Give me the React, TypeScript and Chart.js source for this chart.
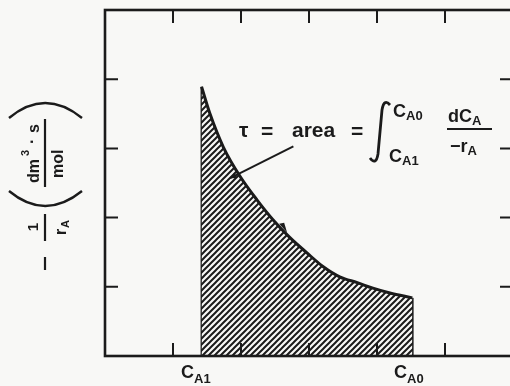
import React, { useEffect, useRef } from "react";
import { Chart, registerables } from "chart.js";

Chart.register(...registerables);

// Curve -1/rA versus CA (axis units: x 0..6, y 0..5)
const curveX = [1.42, 1.54, 1.74, 1.99, 2.24, 2.47, 2.72, 2.97, 3.21, 3.46, 3.71, 3.94, 4.19, 4.52];
const curveY = [3.89, 3.51, 3.02, 2.59, 2.25, 1.97, 1.71, 1.49, 1.29, 1.14, 1.06, 0.98, 0.91, 0.84];
const xTicks = [1, 2, 3, 4, 5];
const yTicks = [1, 2, 3, 4];
const xRange = [0, 6];
const yRange = [0, 5];
// annotation anchors (data units)
const leaderFrom = { x: 2.77, y: 3.03 };
const leaderTo = { x: 1.84, y: 2.57 };
const curveArrow = { x: 2.62, y: 1.84 };

const INK = "#1b1b1b";
const BG = "#f8f8f6";
const FONT = (s: number) => `bold ${s}px "Liberation Sans", Arial, sans-serif`;

export default function App() {
  const ref = useRef<HTMLCanvasElement>(null);
  useEffect(() => {
    const canvas = ref.current!;
    const pc = document.createElement("canvas");
    pc.width = 6;
    pc.height = 6;
    const p = pc.getContext("2d")!;
    p.fillStyle = BG;
    p.fillRect(0, 0, 6, 6);
    p.strokeStyle = INK;
    p.lineWidth = 2;
    p.beginPath();
    p.moveTo(-1, 7);
    p.lineTo(7, -1);
    p.moveTo(-1, 1);
    p.lineTo(1, -1);
    p.moveTo(5, 7);
    p.lineTo(7, 5);
    p.stroke();
    const pattern = canvas.getContext("2d")!.createPattern(pc, "repeat");

    const bgPlugin = {
      id: "bg",
      beforeDraw(c: any) {
        const ctx = c.ctx;
        ctx.save();
        ctx.fillStyle = BG;
        ctx.fillRect(0, 0, c.width, c.height);
        ctx.restore();
      },
    };

    const sub = (ctx: any, main: string, s: string, x: number, y: number, ms: number, ss: number, dy: number) => {
      ctx.font = FONT(ms);
      ctx.textAlign = "left";
      ctx.textBaseline = "alphabetic";
      ctx.fillText(main, x, y);
      const w = ctx.measureText(main).width;
      ctx.font = FONT(ss);
      ctx.fillText(s, x + w, y + dy);
    };

    const deco = {
      id: "deco",
      afterDatasetsDraw(c: any) {
        const ctx = c.ctx;
        const a = c.chartArea;
        const xs = c.scales.x;
        const ys = c.scales.y;
        ctx.save();
        ctx.strokeStyle = INK;
        ctx.fillStyle = INK;
        ctx.lineCap = "butt";
        // frame
        ctx.lineWidth = 2.6;
        ctx.strokeRect(a.left, a.top, a.right - a.left, a.bottom - a.top);
        // ticks (inward)
        ctx.lineWidth = 2;
        const TL = 13;
        ctx.beginPath();
        xTicks.forEach((t) => {
          const px = xs.getPixelForValue(t);
          ctx.moveTo(px, a.top);
          ctx.lineTo(px, a.top + TL);
          ctx.moveTo(px, a.bottom);
          ctx.lineTo(px, a.bottom - TL);
        });
        yTicks.forEach((t) => {
          const py = ys.getPixelForValue(t);
          ctx.moveTo(a.left, py);
          ctx.lineTo(a.left + TL, py);
          ctx.moveTo(a.right, py);
          ctx.lineTo(a.right - TL, py);
        });
        ctx.stroke();

        // leader line
        const lx0 = xs.getPixelForValue(leaderFrom.x);
        const ly0 = ys.getPixelForValue(leaderFrom.y);
        const lx1 = xs.getPixelForValue(leaderTo.x);
        const ly1 = ys.getPixelForValue(leaderTo.y);
        ctx.lineWidth = 2;
        ctx.beginPath();
        ctx.moveTo(lx0, ly0);
        ctx.lineTo(lx1, ly1);
        ctx.stroke();
        const ang = Math.atan2(ly1 - ly0, lx1 - lx0);
        ctx.beginPath();
        ctx.moveTo(lx1, ly1);
        ctx.lineTo(lx1 - 7 * Math.cos(ang - 0.45), ly1 - 7 * Math.sin(ang - 0.45));
        ctx.lineTo(lx1 - 7 * Math.cos(ang + 0.45), ly1 - 7 * Math.sin(ang + 0.45));
        ctx.closePath();
        ctx.fill();

        // small arrow on the curve
        const ax = xs.getPixelForValue(curveArrow.x);
        const ay = ys.getPixelForValue(curveArrow.y);
        ctx.beginPath();
        ctx.moveTo(ax + 4, ay + 4);
        ctx.lineTo(ax - 4, ay - 5);
        ctx.lineTo(ax + 1, ay - 6);
        ctx.closePath();
        ctx.fill();

        // equation
        ctx.font = FONT(21);
        ctx.textAlign = "left";
        ctx.textBaseline = "alphabetic";
        ctx.fillText("τ", 239, 137);
        ctx.fillText("=", 261, 138);
        ctx.fillText("area", 292, 137);
        ctx.fillText("=", 351, 138);
        // integral sign
        ctx.lineWidth = 2.8;
        ctx.beginPath();
        ctx.moveTo(390, 105);
        ctx.quadraticCurveTo(384, 98, 382, 110);
        ctx.lineTo(378, 154);
        ctx.quadraticCurveTo(376, 166, 370, 158);
        ctx.stroke();
        sub(ctx, "C", "A0", 393, 117, 18, 13, 3);
        sub(ctx, "C", "A1", 389, 162, 18, 13, 3);
        sub(ctx, "dC", "A", 448, 122, 18, 13, 3);
        ctx.lineWidth = 2.2;
        ctx.beginPath();
        ctx.moveTo(447, 129);
        ctx.lineTo(492, 129);
        ctx.stroke();
        sub(ctx, "−r", "A", 450, 152, 18, 13, 3);

        // x labels
        sub(ctx, "C", "A1", 181, 378, 18, 13, 5);
        sub(ctx, "C", "A0", 394, 378, 18, 13, 5);

        // y axis label (rotated)
        ctx.save();
        ctx.translate(45, 275);
        ctx.rotate(-Math.PI / 2);
        ctx.lineWidth = 2.2;
        ctx.beginPath();
        ctx.moveTo(5, 0);
        ctx.lineTo(18, 0);
        ctx.stroke();
        ctx.textAlign = "center";
        ctx.textBaseline = "alphabetic";
        ctx.font = FONT(15);
        ctx.fillText("1", 48, -7);
        ctx.beginPath();
        ctx.moveTo(34, 0);
        ctx.lineTo(61, 0);
        ctx.stroke();
        ctx.textAlign = "left";
        ctx.textBaseline = "top";
        ctx.font = FONT(16);
        ctx.fillText("r", 40, 9);
        ctx.font = FONT(11);
        ctx.fillText("A", 47, 15);
        // parentheses
        ctx.lineWidth = 2.4;
        ctx.beginPath();
        ctx.moveTo(84, -36);
        ctx.quadraticCurveTo(54, 0, 84, 37);
        ctx.stroke();
        ctx.beginPath();
        ctx.moveTo(157, -36);
        ctx.quadraticCurveTo(187, 0, 157, 37);
        ctx.stroke();
        // fraction
        ctx.lineWidth = 2.2;
        ctx.beginPath();
        ctx.moveTo(88, 0);
        ctx.lineTo(156, 0);
        ctx.stroke();
        ctx.textAlign = "left";
        ctx.textBaseline = "alphabetic";
        ctx.font = FONT(16);
        ctx.fillText("dm", 92, -6);
        ctx.font = FONT(11);
        ctx.fillText("3", 119, -16);
        ctx.font = FONT(16);
        ctx.fillText("·", 131, -8);
        ctx.fillText("s", 142, -6);
        ctx.textBaseline = "top";
        ctx.fillText("mol", 97, 6);
        ctx.restore();

        ctx.restore();
      },
    };

    const chart = new Chart(canvas, {
      type: "scatter",
      data: {
        datasets: [
          {
            data: curveX.map((x, i) => ({ x, y: curveY[i] })),
            showLine: true,
            borderColor: INK,
            borderWidth: 3,
            pointRadius: 0,
            fill: "origin",
            backgroundColor: pattern as any,
            cubicInterpolationMode: "monotone",
          },
          {
            data: [
              { x: curveX[0], y: 0 },
              { x: curveX[0], y: curveY[0] },
            ],
            showLine: true,
            borderColor: INK,
            borderWidth: 2,
            pointRadius: 0,
            fill: false,
          },
          {
            data: [
              { x: curveX[curveX.length - 1], y: 0 },
              { x: curveX[curveX.length - 1], y: curveY[curveY.length - 1] },
            ],
            showLine: true,
            borderColor: INK,
            borderWidth: 2.5,
            pointRadius: 0,
            fill: false,
          },
        ],
      } as any,
      options: {
        responsive: false,
        maintainAspectRatio: false,
        animation: false,
        events: [],
        layout: { padding: { left: 105, top: 10, right: 7, bottom: 30 } },
        scales: {
          x: { type: "linear", min: xRange[0], max: xRange[1], display: false },
          y: { type: "linear", min: yRange[0], max: yRange[1], display: false },
        },
        plugins: { legend: { display: false }, tooltip: { enabled: false } },
      } as any,
      plugins: [bgPlugin, deco],
    });
    return () => chart.destroy();
  }, []);
  return (
    <canvas
      ref={ref}
      width={520}
      height={386}
      style={{ position: "fixed", left: 0, top: 0, width: 520, height: 386 }}
    />
  );
}
